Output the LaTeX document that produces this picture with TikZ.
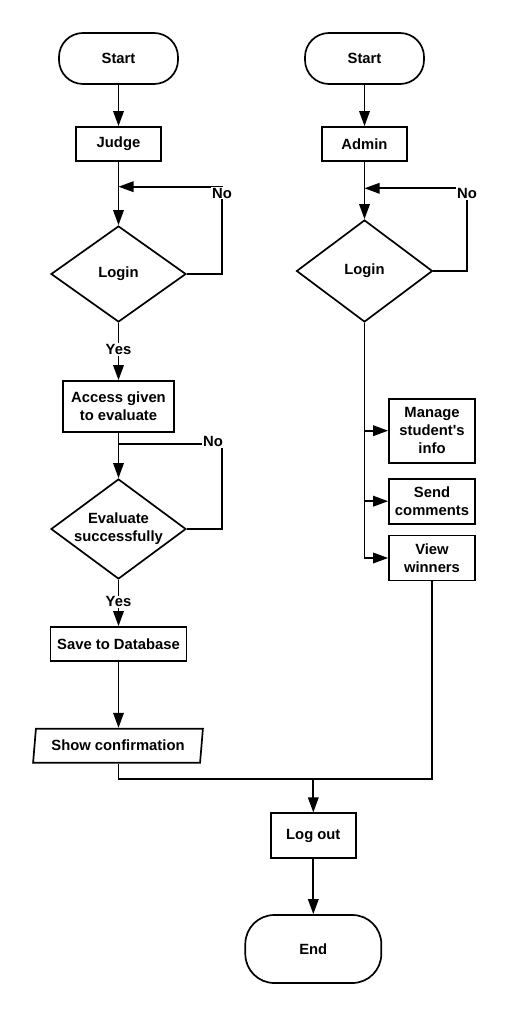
\documentclass[tikz,border=0pt]{standalone}
\usepackage{fontspec}
\setmainfont{Liberation Sans}
\usetikzlibrary{shapes.geometric,arrows.meta}
\begin{document}
\begin{tikzpicture}[x=1pt,y=-1pt, line width=1.7pt,
  every node/.style={font=\fontsize{14.8}{18}\selectfont\bfseries, align=center},
  term/.style={draw, rectangle, inner sep=0pt},
  proc/.style={draw, rectangle, inner sep=0pt},
  dec/.style={draw, diamond, inner sep=0pt, aspect=1.4},
  io/.style={draw, trapezium, trapezium left angle=78, trapezium right angle=102, trapezium stretches=true, inner sep=0pt},
  arr/.style={-{Triangle[length=15pt,width=10.5pt]}},
  lbl/.style={fill=white, inner sep=1pt}]
\useasboundingbox[fill=white] (0,0) rectangle (510,1016);

% nodes
\node[term, rounded corners=24pt, minimum width=119pt, minimum height=51pt] (startL) at (118.5,58.5) {Start};
\node[term, rounded corners=24pt, minimum width=119pt, minimum height=51pt] (startR) at (364.5,58.5) {Start};
\node[proc, minimum width=85pt, minimum height=34pt] (judge) at (118.5,144) {Judge};
\node[proc, minimum width=85pt, minimum height=34pt] (admin) at (364.5,144) {Admin};
\node[dec, minimum width=135pt, minimum height=96pt] (loginL) at (118.5,274) {Login};
\node[dec, minimum width=136pt, minimum height=102pt] (loginR) at (364.5,271) {Login};
\node[proc, minimum width=111pt, minimum height=51pt] (access) at (118.5,406.5) {Access given\\to evaluate};
\node[dec, minimum width=135pt, minimum height=100pt, aspect=1.35] (evalD) at (118.5,529) {Evaluate\\successfully};
\node[proc, minimum width=136pt, minimum height=34pt] (save) at (118.5,644) {Save to Database};
\node[io, minimum width=170pt, minimum height=34pt] (show) at (118,745.7) {Show confirmation};
\node[proc, minimum width=86pt, minimum height=64pt] (manage) at (432,430.7) {Manage\\student\textquotesingle s\\info};
\node[proc, minimum width=86pt, minimum height=45pt] (send) at (432,501.2) {Send\\comments};
\node[proc, minimum width=86pt, minimum height=45pt] (view) at (432,558) {View\\winners};
\node[proc, minimum width=85pt, minimum height=45pt] (logout) at (313.3,835.8) {Log out};
\node[term, rounded corners=29pt, minimum width=136pt, minimum height=68pt] (endN) at (313.3,949) {End};

% left column
\draw[arr] (startL) -- (judge);
\draw[arr] (judge) -- (loginL);
\coordinate (nL) at (222,186.7);
\draw[arr] (loginL.east) -| (nL) -- (judge.south |- nL);
\node[lbl] (noL) at (222,193) {No};
\draw[arr] (loginL) -- (access);
\node[lbl] (yes1) at (118.5,349.5) {Yes};
\draw[arr] (access) -- (evalD);
\coordinate (nE) at (222,443.7);
\draw (evalD.east) -| (nE) -- (access.south |- nE);
\node[lbl] (noE) at (213,441.7) {No};
\draw[arr] (evalD) -- (save);
\node[lbl] (yes2) at (118.5,601.7) {Yes};
\draw[arr] (save) -- (save.south |- show.north);

% right column
\draw[arr] (startR) -- (admin);
\draw[arr] (admin) -- (loginR);
\coordinate (nR) at (467,188.3);
\draw[arr] (loginR.east) -| (nR) -- (admin.south |- nR);
\node[lbl] (noR) at (467,193.5) {No};
\draw[arr] (loginR.south) |- (view.west);
\draw[arr] (loginR.south |- manage.west) -- (manage.west);
\draw[arr] (loginR.south |- send.west) -- (send.west);

% merge
\coordinate (merge) at (313.3,779.3);
\draw (save.south |- show.south) |- (merge) -| (view.south);
\draw[arr] (merge) -- (logout);
\draw[arr] (logout) -- (endN);
\end{tikzpicture}
\end{document}
